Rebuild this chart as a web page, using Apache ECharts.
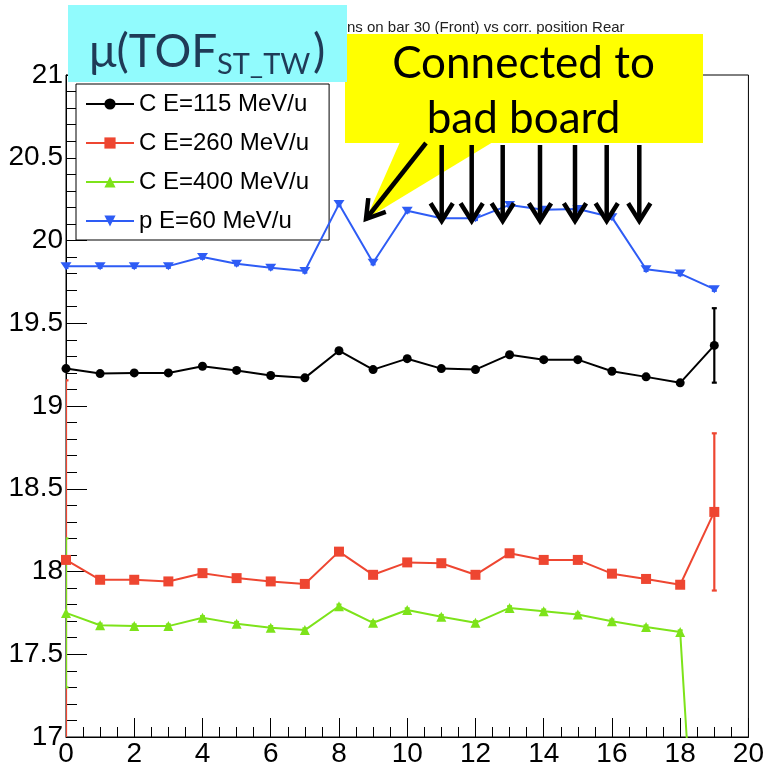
<!DOCTYPE html>
<html>
<head>
<meta charset="utf-8">
<script src="https://cdn.jsdelivr.net/npm/echarts@6/dist/echarts.min.js"></script>
<style>
html,body{margin:0;padding:0;background:#fff;}
#chart{width:767px;height:768px;}
</style>
</head>
<body>
<div id="chart"></div>
<script>
// ---- data ----
const xs = [0,1,2,3,4,5,6,7,8,9,10,11,12,13,14,15,16,17,18,19];
const seriesNames = ['C E=115 MeV/u','C E=260 MeV/u','C E=400 MeV/u','p E=60 MeV/u'];
const c115 = [19.226,19.196,19.20,19.20,19.24,19.215,19.184,19.17,19.334,19.22,19.286,19.226,19.22,19.31,19.28,19.28,19.21,19.176,19.14,19.366];
const c260 = [18.07,17.95,17.95,17.94,17.99,17.96,17.94,17.925,18.12,17.98,18.055,18.05,17.98,18.11,18.07,18.07,17.987,17.955,17.92,18.36];
const c400 = [17.75,17.675,17.67,17.67,17.72,17.685,17.66,17.646,17.79,17.69,17.767,17.727,17.69,17.78,17.76,17.74,17.70,17.664,17.634,14.3];
const p60  = [19.844,19.845,19.845,19.845,19.90,19.86,19.836,19.816,20.22,19.866,20.18,20.134,20.134,20.215,20.186,20.19,20.14,19.826,19.80,19.706];
const errC115 = [0.01,0.01,0.01,0.01,0.01,0.01,0.01,0.01,0.01,0.01,0.01,0.01,0.01,0.01,0.01,0.01,0.01,0.01,0.01,0.225];
const errC260 = [1.085,0.01,0.01,0.01,0.01,0.01,0.01,0.01,0.01,0.01,0.01,0.01,0.01,0.01,0.01,0.01,0.01,0.01,0.01,0.475];
const errC400 = [0.45,0.01,0.01,0.01,0.01,0.01,0.01,0.01,0.01,0.01,0.01,0.01,0.01,0.01,0.01,0.01,0.01,0.01,0.01,0.01];
const errP60  = [0.01,0.01,0.01,0.01,0.01,0.01,0.01,0.01,0.01,0.01,0.01,0.01,0.01,0.01,0.01,0.01,0.01,0.01,0.01,0.01];
const xTicks = {min:0, max:20, interval:2};
const yTicks = {min:17, max:21, interval:0.5};
const titleText = 'ns on bar 30 (Front) vs corr. position Rear';
const calloutLines = ['Connected to','bad board'];

// ---- styles ----
const colors = ['#000000','#ee4631','#7de31a','#2e5cf5'];
const symbols = ['circle','rect','triangle','path://M0,0L2,0L1,1.6Z'];
const symSizes = [9,10,10,[11,8]];
const vals = [c115,c260,c400,p60];
const errs = [errC115,errC260,errC400,errP60];
const fontAxis = '"Liberation Sans", Arial, Helvetica, sans-serif';

const chart = echarts.init(document.getElementById('chart'), null, {renderer:'canvas'});

function errRender(color){
  return function(params, api){
    const x = api.value(0), y = api.value(1), e = api.value(2);
    const t = api.coord([x, y+e]);
    const b = api.coord([x, y-e]);
    const cw = 2.5;
    const st = {stroke:color, lineWidth:2.2};
    return {type:'group', children:[
      {type:'line', shape:{x1:t[0],y1:t[1],x2:b[0],y2:b[1]}, style:st},
      {type:'line', shape:{x1:t[0]-cw,y1:t[1],x2:t[0]+cw,y2:t[1]}, style:st},
      {type:'line', shape:{x1:b[0]-cw,y1:b[1],x2:b[0]+cw,y2:b[1]}, style:st}
    ]};
  };
}

const series = [];
vals.forEach((v,k)=>{
  series.push({
    name: seriesNames[k] + ' (err)', type:'custom', clip:true, z:3,
    data: xs.map((x,i)=>[x, v[i], errs[k][i]]),
    encode:{x:0,y:1},
    renderItem: errRender(colors[k]),
    itemStyle:{color:colors[k]},
    silent:true
  });
});
vals.forEach((v,k)=>{
  series.push({
    name: seriesNames[k], type:'line', clip:true, z:4,
    data: xs.map((x,i)=>[x, v[i]]),
    symbol: symbols[k], symbolSize: symSizes[k], showAllSymbol:true,
    lineStyle:{color:colors[k], width:2},
    itemStyle:{color:colors[k]}
  });
});

// arrow helper
function arrow(x1,y1,x2,y2){
  const dx = x2-x1, dy = y2-y1, L = Math.hypot(dx,dy);
  const ux = -dx/L, uy = -dy/L, hl = 21, ang = 32*Math.PI/180;
  const w1 = [x2 + hl*(ux*Math.cos(ang)-uy*Math.sin(ang)), y2 + hl*(ux*Math.sin(ang)+uy*Math.cos(ang))];
  const w2 = [x2 + hl*(ux*Math.cos(-ang)-uy*Math.sin(-ang)), y2 + hl*(ux*Math.sin(-ang)+uy*Math.cos(-ang))];
  const st = {stroke:'#000', lineWidth:4.5, fill:null, lineJoin:'miter', lineCap:'butt'};
  return [
    {type:'line', z:200, shape:{x1:x1,y1:y1,x2:x2,y2:y2}, style:st},
    {type:'polyline', z:200, shape:{points:[w1,[x2,y2],w2]}, style:st}
  ];
}

const graphics = [
  {type:'text', z:50, x:347, y:28, style:{text:titleText, font:'15px ' + fontAxis, fill:'#222', verticalAlign:'middle', align:'left'}},
  {type:'polygon', z:100, shape:{points:[[400,142],[493,142],[366,219]]}, style:{fill:'#ffff00'}},
  {type:'rect', z:100, shape:{x:345,y:34,width:358,height:109}, style:{fill:'#ffff00'}},
  {type:'text', z:110, x:523.5, y:64, style:{text:calloutLines[0], font:'44px Lato', fill:'#000', align:'center', verticalAlign:'middle'}},
  {type:'text', z:110, x:523.5, y:119, style:{text:calloutLines[1], font:'44px Lato', fill:'#000', align:'center', verticalAlign:'middle'}},
  {type:'rect', z:120, shape:{x:68,y:5,width:279,height:77}, style:{fill:'#91fbfd'}},
  {type:'text', z:130, x:89, y:52, style:{text:'μ(TOF', font:'46px Lato', fill:'#1f3b57', align:'left', verticalAlign:'middle'}},
  {type:'text', z:130, x:217, y:65, style:{text:'ST_TW', font:'29px Lato', fill:'#1f3b57', align:'left', verticalAlign:'middle'}},
  {type:'text', z:130, x:313, y:52, style:{text:')', font:'46px Lato', fill:'#1f3b57', align:'left', verticalAlign:'middle'}}
];
graphics.push(...arrow(426,143,366,219));
[441.7,471.7,502.7,540,575,606.7,639.3].forEach(ax=>{
  graphics.push(...arrow(ax,145,ax,221));
});

const option = {
  animation:false,
  backgroundColor:'#fff',
  grid:{left:66, right:15, top:75, bottom:26, show:true, borderColor:'#000', borderWidth:1, backgroundColor:'transparent'},
  legend:{
    data: seriesNames, orient:'vertical', left:76, top:84,
    padding:[8,20,7,9], itemGap:15, itemWidth:48, itemHeight:14,
    backgroundColor:'#fff', borderColor:'#000', borderWidth:1, borderRadius:0,
    selectedMode:false,
    textStyle:{fontFamily:fontAxis, fontSize:24, color:'#000', lineHeight:24}
  },
  xAxis:{
    type:'value', min:xTicks.min, max:xTicks.max, interval:xTicks.interval,
    axisLine:{show:true, onZero:false, lineStyle:{color:'#000', width:1}},
    axisTick:{show:true, inside:true, length:19, lineStyle:{color:'#000'}},
    minorTick:{show:true, splitNumber:4, length:10, lineStyle:{color:'#000'}},
    splitLine:{show:false},
    axisLabel:{color:'#000', fontFamily:fontAxis, fontSize:28, margin:3}
  },
  yAxis:{
    type:'value', min:yTicks.min, max:yTicks.max, interval:yTicks.interval,
    axisLine:{show:true, onZero:false, lineStyle:{color:'#000', width:1}},
    axisTick:{show:true, inside:true, length:21, lineStyle:{color:'#000'}},
    minorTick:{show:true, splitNumber:5, length:11, lineStyle:{color:'#000'}},
    splitLine:{show:false},
    axisLabel:{color:'#000', fontFamily:fontAxis, fontSize:28, margin:3}
  },
  series: series,
  graphic: graphics
};
chart.setOption(option);
</script>
</body>
</html>
